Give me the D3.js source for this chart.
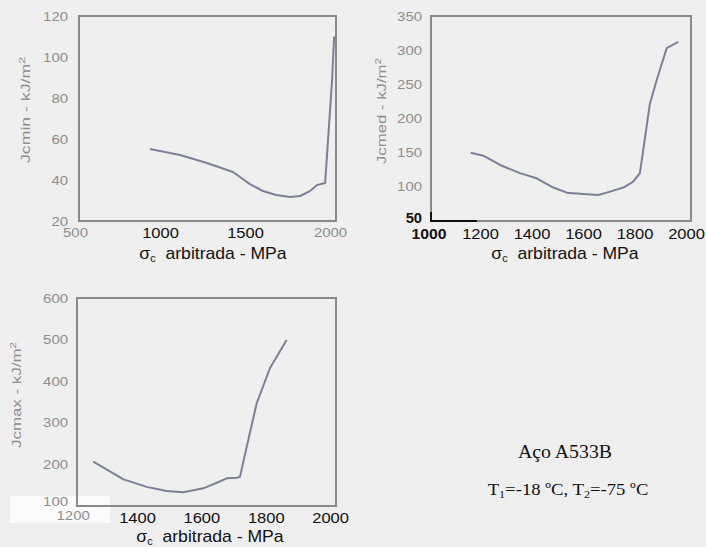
<!DOCTYPE html>
<html>
<head>
<meta charset="utf-8">
<script src="https://cdn.jsdelivr.net/npm/d3@7"></script>
<style>
  html, body { margin: 0; padding: 0; background: #efefef; }
  svg { display: block; }
</style>
</head>
<body>
<svg id="fig" width="706" height="547"></svg>
<script>
// Jcmin vs arbitrated critical stress
const sigmaMin = [941, 1118, 1276, 1429, 1529, 1606, 1682, 1765, 1824, 1882, 1924, 1971, 2012, 2024];
const jcMin    = [55.1, 52.2, 48.3, 43.9, 38, 34.6, 32.7, 31.7, 32.2, 34.6, 37.6, 38.5, 88.8, 110];
const ticksXMin = [500, 1000, 1500, 2000];
const ticksYMin = [20, 40, 60, 80, 100, 120];

// Jcmed vs arbitrated critical stress
const sigmaMed = [1164, 1213, 1278, 1355, 1420, 1485, 1537, 1601, 1659, 1705, 1757, 1795, 1821, 1860, 1886, 1925, 1970];
const jcMed    = [150, 145.6, 132, 120, 112.5, 99, 91.5, 89.5, 88, 93, 99, 107.5, 120, 222, 256, 303, 312];
const ticksXMed = [1000, 1200, 1400, 1600, 1800, 2000];
const ticksYMed = [50, 100, 150, 200, 250, 300, 350];

// Jcmax vs arbitrated critical stress
const sigmaMax = [1264, 1358, 1430, 1492, 1544, 1606, 1648, 1679, 1710, 1720, 1741, 1772, 1813, 1865];
const jcMax    = [206.5, 164, 146, 136, 133, 142.5, 156, 166.5, 168, 170, 242.5, 347, 431, 499];
const ticksXMax = [1200, 1400, 1600, 1800, 2000];
const ticksYMax = [100, 200, 300, 400, 500, 600];

const SANS = "Liberation Sans, Arial, sans-serif";
const GRAY = "#8e8e8e";
const svg = d3.select("#fig");

const panels = [
  { xs: sigmaMin, ys: jcMin, xt: ticksXMin, yt: ticksYMin, name: "Jcmin",
    xd: [523.5, 2035], yd: [20, 120], xr: [79, 336], yr: [221, 16],
    xTickY: 238, yTickX: 68, titleX: 213, titleY: 259, yTitleX: 30, yTitleY: 110,
    grayX: v => v === 500 || v === 2000 },
  { xs: sigmaMed, ys: jcMed, xt: ticksXMed, yt: ticksYMed, name: "Jcmed",
    xd: [1009.7, 2019.4], yd: [50, 350], xr: [431, 691], yr: [221, 16],
    xTickY: 239, yTickX: 422, titleX: 565, titleY: 259, yTitleX: 386, yTitleY: 111,
    grayX: () => false },
  { xs: sigmaMax, ys: jcMax, xt: ticksXMax, yt: ticksYMax, name: "Jcmax",
    xd: [1213.4, 2018.5], yd: [100, 600], xr: [77, 336], yr: [506, 298],
    xTickY: 523, yTickX: 68, titleX: 210, titleY: 542, yTitleX: 21, yTitleY: 395,
    grayX: v => v === 1200 }
];

// light paper patch under the lower-left corner labels
svg.append("rect").attr("x", 10).attr("y", 496).attr("width", 100).attr("height", 27).attr("fill", "#fbfbfb");

panels.forEach((p, i) => {
  const x = d3.scaleLinear().domain(p.xd).range(p.xr);
  const y = d3.scaleLinear().domain(p.yd).range(p.yr);
  const g = svg.append("g");

  // frame
  g.append("rect")
    .attr("x", p.xr[0]).attr("y", p.yr[1])
    .attr("width", p.xr[1] - p.xr[0]).attr("height", p.yr[0] - p.yr[1])
    .attr("fill", "none").attr("stroke", "#8a8a8a").attr("stroke-width", 2);

  // y tick labels
  const ya = g.append("g").attr("transform", `translate(${p.yTickX},0)`)
    .call(d3.axisLeft(y).tickValues(p.yt).tickSize(0).tickPadding(0).tickFormat(d3.format("d")));
  ya.select(".domain").remove();
  ya.selectAll("text")
    .attr("font-family", SANS)
    .attr("font-size", 13)
    .attr("fill", GRAY)
    .attr("transform", "scale(1.15,1)");

  // x tick labels
  const xa = g.append("g").attr("transform", `translate(0,${p.xTickY})`)
    .call(d3.axisBottom(x).tickValues(p.xt).tickSize(0).tickPadding(0).tickFormat(d3.format("d")));
  xa.select(".domain").remove();
  xa.selectAll("text")
    .attr("y", 0).attr("dy", null)
    .attr("font-family", SANS)
    .attr("font-size", 15)
    .attr("fill", "#111")
    .attr("transform", "scale(1.1,1)");
  xa.selectAll("text").filter(d => p.grayX(d))
    .attr("font-size", 13).attr("fill", GRAY).attr("y", -1)
    .attr("transform", "scale(1.15,1)");
  if (i === 2) {
    // corner labels of the lower panel sit stacked, slightly apart
    xa.selectAll("text").filter(d => d === 1200).attr("y", -3);
    ya.selectAll("text").filter(d => d === 100).attr("dy", "-0.05em");
  }

  // curve
  const pts = p.xs.map((v, k) => [v, p.ys[k]]);
  g.append("path")
    .datum(pts)
    .attr("fill", "none")
    .attr("stroke", "#7c8097")
    .attr("stroke-width", 2)
    .attr("stroke-linejoin", "round")
    .attr("d", d3.line().x(d => x(d[0])).y(d => y(d[1])));

  // x title
  const t = g.append("text")
    .attr("transform", `translate(${p.titleX},${p.titleY}) scale(1.1,1)`)
    .attr("text-anchor", "middle")
    .attr("font-family", SANS)
    .attr("font-size", 16)
    .attr("fill", "#111")
    .attr("xml:space", "preserve");
  t.append("tspan").text("σ");
  t.append("tspan").attr("font-size", 10).attr("dy", 3).text("c");
  t.append("tspan").attr("dy", -3).text("  arbitrada - MPa");

  // y title
  const yt = g.append("text")
    .attr("transform", `translate(${p.yTitleX},${p.yTitleY}) rotate(-90)`)
    .attr("text-anchor", "middle")
    .attr("font-family", SANS)
    .attr("font-size", 13)
    .attr("fill", GRAY)
    .attr("textLength", 106)
    .attr("lengthAdjust", "spacingAndGlyphs");
  yt.append("tspan").text(p.name + " - kJ/m");
  yt.append("tspan").attr("font-size", 9).attr("dy", -5).text("2");

  // darkened corner on the middle panel
  if (i === 1) {
    g.append("path")
      .attr("d", `M${p.xr[0]},${p.yr[0] - 9}V${p.yr[0]}H${p.xr[0] + 46}`)
      .attr("fill", "none").attr("stroke", "#111").attr("stroke-width", 2);
    ya.selectAll("text").filter(d => d === 50)
      .attr("fill", "#111").attr("font-weight", "bold").attr("font-size", 14)
      .attr("dy", "0.1em").attr("transform", "scale(1.05,1)");
    xa.selectAll("text").filter(d => d === 1000).attr("font-weight", "bold").attr("transform", "scale(1.05,1)");
  }
});

// annotation
const ann = svg.append("g")
  .attr("font-family", "Liberation Serif, Times New Roman, serif")
  .attr("fill", "#111");
ann.append("text").attr("transform", "translate(565,458) scale(1.1,1)").attr("text-anchor", "middle")
  .attr("font-size", 18).text("Aço A533B");
const l2 = ann.append("text").attr("transform", "translate(568,495) scale(1.1,1)")
  .attr("text-anchor", "middle").attr("font-size", 17);
l2.append("tspan").text("T");
l2.append("tspan").attr("font-size", 11).attr("dy", 3).text("1");
l2.append("tspan").attr("dy", -3).text("=-18 ºC, T");
l2.append("tspan").attr("font-size", 11).attr("dy", 3).text("2");
l2.append("tspan").attr("dy", -3).text("=-75 ºC");
</script>
</body>
</html>
